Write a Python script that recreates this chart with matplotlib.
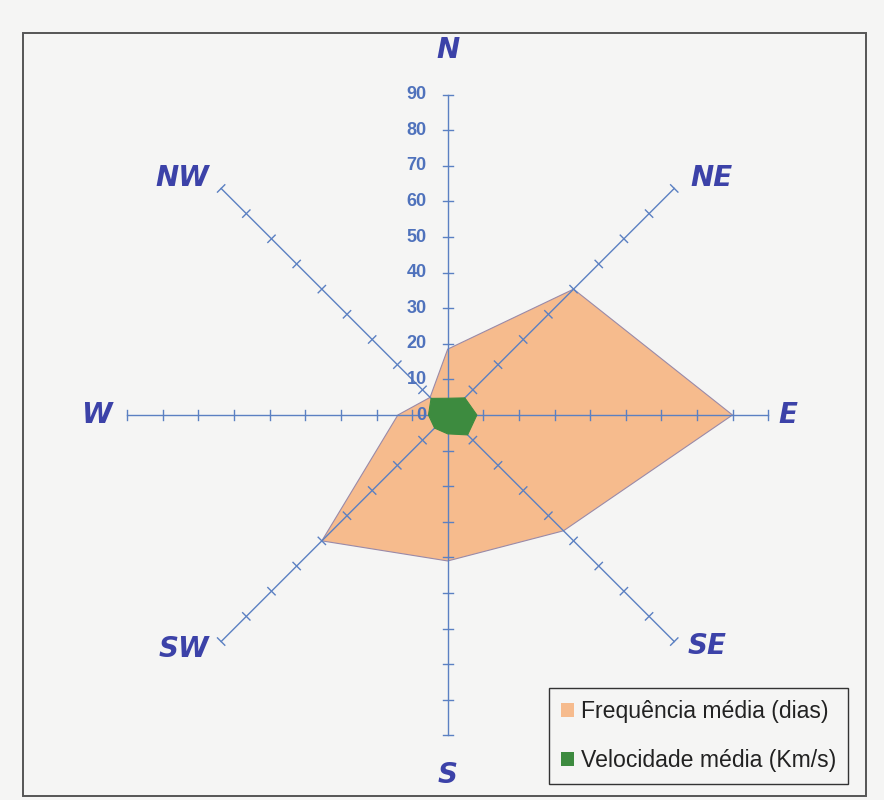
import numpy as np
import matplotlib
matplotlib.use("Agg")
import matplotlib.pyplot as plt
from matplotlib.patches import Polygon, Rectangle

# --- data -------------------------------------------------------------
directions = ["N", "NE", "E", "SE", "S", "SW", "W", "NW"]
frequencia_dias = [18.5, 50, 80, 46, 41, 50, 14, 7]          # Frequência média (dias)
velocidade_kms = [4.7, 6.8, 8.2, 7.9, 5.3, 5.2, 5.4, 6.6]     # Velocidade média (Km/s)
tick_values = [0, 10, 20, 30, 40, 50, 60, 70, 80, 90]
series_labels = ["Frequência média (dias)", "Velocidade média (Km/s)"]

# --- style ------------------------------------------------------------
paper = "#f5f5f4"
axis_blue = "#5b80c2"
num_blue = "#4f72bc"
dir_blue = "#3c42a8"
orange = "#f6bb8d"
orange_edge = "#9a8aa8"
green = "#3d8b3f"

W_PX, H_PX = 884, 800
cx_px, cy_px = 447.7, 415.0      # centre of the rose in pixels
px_per_unit = 3.56               # pixels per unit of value

fig = plt.figure(figsize=(W_PX / 100, H_PX / 100), dpi=100, facecolor=paper)
ax = fig.add_axes([0, 0, 1, 1])
ax.set_facecolor(paper)
ax.set_xlim(-cx_px / px_per_unit, (W_PX - cx_px) / px_per_unit)
ax.set_ylim(-(H_PX - cy_px) / px_per_unit, cy_px / px_per_unit)
ax.set_aspect("equal")
ax.axis("off")

# frame around the chart area
fig.patches.append(Rectangle((23 / W_PX, 1 - 796 / H_PX), (866 - 23) / W_PX, (796 - 33) / H_PX,
                             transform=fig.transFigure, fill=False,
                             edgecolor="#555555", linewidth=1.4, zorder=0))

n = len(directions)
angles = np.deg2rad(90 - 45 * np.arange(n))
ux, uy = np.cos(angles), np.sin(angles)


def to_xy(values):
    v = np.asarray(values, dtype=float)
    return np.column_stack([v * ux, v * uy])


# filled series
ax.add_patch(Polygon(to_xy(frequencia_dias), closed=True, facecolor=orange,
                     edgecolor=orange_edge, linewidth=0.8, zorder=2))

# radial axes with cross ticks
rmax = tick_values[-1]
half_tick = 1.45
for i in range(n):
    ax.plot([0, rmax * ux[i]], [0, rmax * uy[i]], color=axis_blue, lw=1.0, zorder=3)
    px, py = -uy[i], ux[i]
    for t in tick_values[1:]:
        bx, by = t * ux[i], t * uy[i]
        ax.plot([bx - half_tick * px, bx + half_tick * px],
                [by - half_tick * py, by + half_tick * py],
                color=axis_blue, lw=1.0, zorder=3)

ax.add_patch(Polygon(to_xy(velocidade_kms), closed=True, facecolor=green,
                     edgecolor=green, linewidth=0.8, zorder=4))

# value labels along the north axis
for t in tick_values:
    ax.text(-5.9, t, str(t), ha="right", va="center", fontsize=13,
            fontweight="bold", color=num_blue, family="Liberation Sans", zorder=5)

# direction labels
label_pos = {
    "N": (0, 102.5), "NE": (74.2, 66.6), "E": (95.5, 0), "SE": (72.8, -64.9),
    "S": (0, -101.0), "SW": (-74.0, -65.7), "W": (-98.6, 0), "NW": (-74.6, 66.6),
}
for d in directions:
    x, y = label_pos[d]
    ax.text(x, y, d, ha="center", va="center", fontsize=20, fontweight="bold",
            fontstyle="italic", color=dir_blue, family="DejaVu Sans", zorder=5)

# legend
handles = [
    Rectangle((0, 0), 1, 1, facecolor=orange, edgecolor="none"),
    Rectangle((0, 0), 1, 1, facecolor=green, edgecolor="none"),
]
leg = fig.legend(handles, series_labels, loc="upper left",
                 bbox_to_anchor=(549 / W_PX, 1 - 688 / H_PX),
                 prop={"family": "Liberation Sans", "size": 16.6},
                 frameon=True, fancybox=False, edgecolor="#333333",
                 facecolor=paper, framealpha=1.0,
                 handlelength=0.55, handleheight=0.55, handletextpad=0.3,
                 labelspacing=1.12, borderpad=0.52, borderaxespad=0)
leg.get_frame().set_linewidth(1.0)
for txt in leg.get_texts():
    txt.set_color("#222222")

fig.savefig("out.png", dpi=100, facecolor=paper)
